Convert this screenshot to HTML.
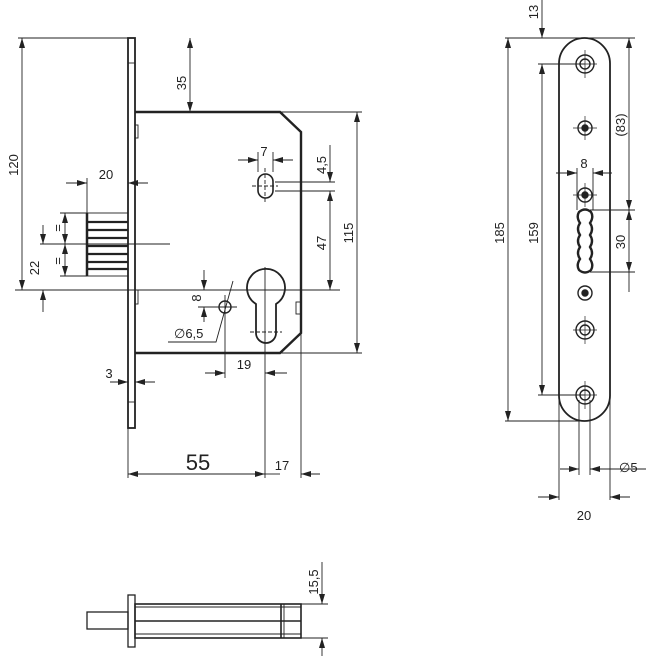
<!DOCTYPE html>
<html><head><meta charset="utf-8"><style>
html,body{margin:0;padding:0;background:#fff;}
svg{display:block;}
text{font-family:"Liberation Sans",sans-serif;font-size:13px;fill:#222;}
</style></head><body>
<svg width="646" height="656" viewBox="0 0 646 656" xmlns="http://www.w3.org/2000/svg">
<defs>
<marker id="a" viewBox="0 0 10 6" refX="10" refY="3" markerWidth="10" markerHeight="6" markerUnits="userSpaceOnUse" orient="auto-start-reverse"><path d="M0,0L10,3L0,6z" fill="#222"/></marker>
</defs>
<g stroke="#222" fill="none" stroke-width="0.9">
<rect x="128" y="38" width="7" height="390" stroke-width="1.8"/>
<line x1="128" y1="63" x2="135" y2="63"/>
<line x1="128" y1="402" x2="135" y2="402"/>
<path d="M135,112 H280 L301,132 V333 L280,353 H135" stroke-width="2.4"/>
<rect x="135" y="125" width="3" height="13"/>
<rect x="135" y="290" width="3" height="14"/>
<rect x="296" y="302" width="5" height="12"/>
<rect x="87" y="213" width="41" height="63"/>
<line x1="87" y1="213" x2="87" y2="276" stroke-width="2.5"/>
<g stroke-width="2.2"><line x1="87" y1="222" x2="128" y2="222"/><line x1="87" y1="230" x2="128" y2="230"/><line x1="87" y1="238" x2="128" y2="238"/><line x1="87" y1="246" x2="128" y2="246"/><line x1="87" y1="254" x2="128" y2="254"/><line x1="87" y1="262" x2="128" y2="262"/><line x1="87" y1="269" x2="128" y2="269"/></g>
<rect x="258" y="174" width="15" height="24" rx="7.5" stroke-width="1.6"/>
<line x1="265" y1="168" x2="265" y2="203" stroke-dasharray="4,2"/>
<line x1="252" y1="186" x2="278" y2="186" stroke-dasharray="4,2"/>
<path d="M256,304 A19,19 0 1 1 276,304 V333 A10,10 0 0 1 256,333 Z" stroke-width="1.8"/>
<line x1="265" y1="267" x2="265" y2="478"/>
<line x1="250" y1="332" x2="282" y2="332" stroke-dasharray="4,2"/>
<circle cx="225" cy="307" r="6" stroke-width="1.4"/>
<line x1="213" y1="307" x2="237" y2="307"/><line x1="225" y1="295" x2="225" y2="378"/>
<line x1="15" y1="290" x2="340" y2="290"/>
<line x1="40" y1="244" x2="170" y2="244"/>
<line x1="18" y1="38" x2="128" y2="38"/>
<line x1="280" y1="112" x2="362" y2="112"/>
<line x1="280" y1="353" x2="362" y2="353"/>
<line x1="275" y1="182" x2="335" y2="182"/>
<line x1="275" y1="191" x2="335" y2="191"/>
<line x1="258" y1="152" x2="258" y2="172"/>
<line x1="273" y1="152" x2="273" y2="172"/>
<line x1="87" y1="178" x2="87" y2="213"/>
<line x1="60" y1="213" x2="87" y2="213"/>
<line x1="60" y1="276" x2="87" y2="276"/>
<line x1="128" y1="428" x2="128" y2="478"/>
<line x1="301" y1="333" x2="301" y2="478"/>
<line x1="198" y1="307" x2="215" y2="307"/>
<line x1="190" y1="38" x2="190" y2="112" marker-start="url(#a)" marker-end="url(#a)"/>
<line x1="22" y1="38" x2="22" y2="290" marker-start="url(#a)" marker-end="url(#a)"/>
<line x1="357" y1="112" x2="357" y2="353" marker-start="url(#a)" marker-end="url(#a)"/>
<line x1="330" y1="191" x2="330" y2="290" marker-start="url(#a)" marker-end="url(#a)"/>
<line x1="330" y1="145" x2="330" y2="182" marker-end="url(#a)"/>
<line x1="238" y1="160" x2="258" y2="160" marker-end="url(#a)"/>
<line x1="293" y1="160" x2="273" y2="160" marker-end="url(#a)"/>
<line x1="66" y1="183" x2="87" y2="183" marker-end="url(#a)"/>
<line x1="148" y1="183" x2="128" y2="183" marker-end="url(#a)"/>
<line x1="65" y1="213" x2="65" y2="244" marker-start="url(#a)" marker-end="url(#a)"/>
<line x1="65" y1="244" x2="65" y2="276" marker-start="url(#a)" marker-end="url(#a)"/>
<line x1="43" y1="225" x2="43" y2="244" marker-end="url(#a)"/>
<line x1="43" y1="312" x2="43" y2="290" marker-end="url(#a)"/>
<line x1="204" y1="270" x2="204" y2="290" marker-end="url(#a)"/>
<line x1="204" y1="322" x2="204" y2="307" marker-end="url(#a)"/>
<polyline points="233,281 216,342 168,342"/>
<line x1="110" y1="382" x2="128" y2="382" marker-end="url(#a)"/>
<line x1="155" y1="382" x2="135" y2="382" marker-end="url(#a)"/>
<line x1="205" y1="373" x2="225" y2="373" marker-end="url(#a)"/>
<line x1="287" y1="373" x2="265" y2="373" marker-end="url(#a)"/>
<line x1="128" y1="474" x2="265" y2="474" marker-start="url(#a)" marker-end="url(#a)"/>
<line x1="320" y1="474" x2="301" y2="474" marker-end="url(#a)"/>
<line x1="265" y1="474" x2="280" y2="474"/>

<rect x="559" y="38" width="51" height="383" rx="25.5" stroke-width="1.8"/>
<g stroke-width="1.4">
<circle cx="585" cy="64" r="9"/><circle cx="585" cy="64" r="5"/>
<circle cx="585" cy="128" r="7"/><circle cx="585" cy="128" r="3" fill="#222"/>
<circle cx="585" cy="195" r="7"/><circle cx="585" cy="195" r="3" fill="#222"/>
<circle cx="585" cy="293" r="7"/><circle cx="585" cy="293" r="3" fill="#222"/>
<circle cx="585" cy="330" r="9"/><circle cx="585" cy="330" r="5"/>
<circle cx="585" cy="395" r="9"/><circle cx="585" cy="395" r="5"/>
</g>
<g stroke-width="0.7">
<line x1="573" y1="64" x2="597" y2="64"/><line x1="585" y1="50" x2="585" y2="78"/>
<line x1="573" y1="128" x2="597" y2="128"/><line x1="585" y1="116" x2="585" y2="140"/>
<line x1="573" y1="195" x2="597" y2="195"/><line x1="585" y1="183" x2="585" y2="207"/>
<line x1="573" y1="330" x2="597" y2="330"/><line x1="585" y1="316" x2="585" y2="344"/>
<line x1="573" y1="395" x2="597" y2="395"/><line x1="585" y1="381" x2="585" y2="409"/>
</g>
<path d="M579,212 Q585,207 591,212 Q594,217 590,223 Q594,229 590,235 Q594,241 590,247 Q594,253 590,259 Q594,265 591,270 Q585,275 579,270 Q576,265 580,259 Q576,253 580,247 Q576,241 580,235 Q576,229 580,223 Q576,217 579,212 Z" stroke-width="2.4"/>
<line x1="505" y1="38" x2="635" y2="38"/>
<line x1="505" y1="421" x2="585" y2="421"/>
<line x1="538" y1="64" x2="585" y2="64"/>
<line x1="538" y1="395" x2="585" y2="395"/>
<line x1="590" y1="210" x2="635" y2="210"/>
<line x1="590" y1="272" x2="635" y2="272"/>
<line x1="577" y1="168" x2="577" y2="210"/>
<line x1="593" y1="168" x2="593" y2="210"/>
<line x1="559" y1="400" x2="559" y2="500"/>
<line x1="610" y1="400" x2="610" y2="500"/>
<line x1="579" y1="400" x2="579" y2="475"/>
<line x1="590" y1="400" x2="590" y2="475"/>
<line x1="542" y1="0" x2="542" y2="38" marker-end="url(#a)"/>
<line x1="542" y1="64" x2="542" y2="395" marker-start="url(#a)" marker-end="url(#a)"/>
<line x1="508" y1="38" x2="508" y2="421" marker-start="url(#a)" marker-end="url(#a)"/>
<line x1="629" y1="38" x2="629" y2="210" marker-start="url(#a)" marker-end="url(#a)"/>
<line x1="629" y1="210" x2="629" y2="272" marker-start="url(#a)" marker-end="url(#a)"/>
<line x1="629" y1="272" x2="629" y2="292"/>
<line x1="556" y1="173" x2="577" y2="173" marker-end="url(#a)"/>
<line x1="612" y1="173" x2="593" y2="173" marker-end="url(#a)"/>
<line x1="560" y1="469" x2="579" y2="469" marker-end="url(#a)"/>
<line x1="646" y1="469" x2="590" y2="469" marker-end="url(#a)"/>
<line x1="538" y1="497" x2="559" y2="497" marker-end="url(#a)"/>
<line x1="630" y1="497" x2="610" y2="497" marker-end="url(#a)"/>

<rect x="87" y="612" width="41" height="17" stroke-width="1.3"/>
<rect x="128" y="595" width="7" height="52" stroke-width="1.3"/>
<rect x="135" y="604" width="166" height="34" stroke-width="1.6"/>
<line x1="135" y1="607" x2="301" y2="607"/>
<line x1="135" y1="621" x2="301" y2="621" stroke-width="1.6"/>
<line x1="135" y1="634" x2="301" y2="634"/>
<line x1="281" y1="604" x2="281" y2="638" stroke-width="1.6"/>
<line x1="284" y1="604" x2="284" y2="638"/>
<line x1="301" y1="604" x2="328" y2="604"/>
<line x1="301" y1="638" x2="328" y2="638"/>
<line x1="322" y1="562" x2="322" y2="604" marker-end="url(#a)"/>
<line x1="322" y1="656" x2="322" y2="638" marker-end="url(#a)"/>
</g>
<g>
<text transform="translate(186,83) rotate(-90)" text-anchor="middle">35</text>
<text transform="translate(18,165) rotate(-90)" text-anchor="middle">120</text>
<text transform="translate(353,233) rotate(-90)" text-anchor="middle">115</text>
<text transform="translate(326,243) rotate(-90)" text-anchor="middle">47</text>
<text transform="translate(326,165) rotate(-90)" text-anchor="middle">4,5</text>
<text x="264" y="156" text-anchor="middle">7</text>
<text x="106" y="179" text-anchor="middle">20</text>
<text transform="translate(62,228) rotate(-90)" text-anchor="middle">=</text>
<text transform="translate(62,261) rotate(-90)" text-anchor="middle">=</text>
<text transform="translate(39,268) rotate(-90)" text-anchor="middle">22</text>
<text transform="translate(201,298) rotate(-90)" text-anchor="middle">8</text>
<text x="174" y="338">∅6,5</text>
<text x="109" y="378" text-anchor="middle">3</text>
<text x="244" y="369" text-anchor="middle">19</text>
<text x="198" y="470" text-anchor="middle" style="font-size:22px">55</text>
<text x="282" y="470" text-anchor="middle">17</text>
<text transform="translate(538,12) rotate(-90)" text-anchor="middle">13</text>
<text transform="translate(538,233) rotate(-90)" text-anchor="middle">159</text>
<text transform="translate(504,233) rotate(-90)" text-anchor="middle">185</text>
<text transform="translate(625,125) rotate(-90)" text-anchor="middle">(83)</text>
<text transform="translate(625,242) rotate(-90)" text-anchor="middle">30</text>
<text x="584" y="168" text-anchor="middle">8</text>
<text x="619" y="472">∅5</text>
<text x="584" y="520" text-anchor="middle">20</text>
<text transform="translate(318,582) rotate(-90)" text-anchor="middle">15,5</text>
</g>
</svg>
</body></html>
